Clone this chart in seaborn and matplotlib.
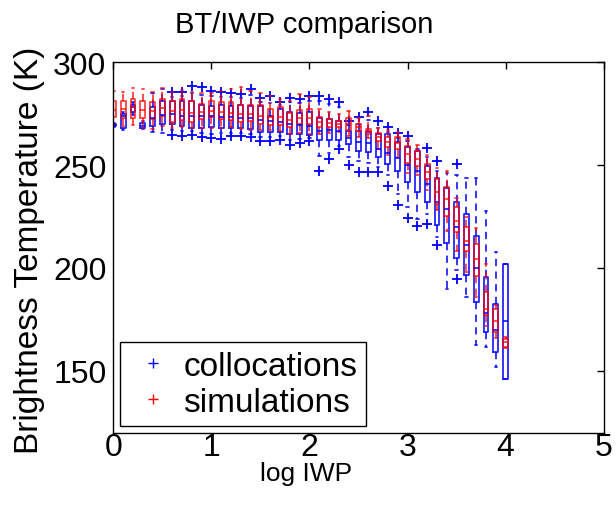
import numpy as np
import pandas as pd
import matplotlib
matplotlib.use('Agg')
import matplotlib.pyplot as plt
from matplotlib.lines import Line2D
import seaborn as sns

BLUE = '#0000ff'
RED = '#ff0000'

log_iwp = [0.0, 0.1, 0.2, 0.3, 0.4, 0.5, 0.6, 0.7, 0.8, 0.9,
           1.0, 1.1, 1.2, 1.3, 1.4, 1.5, 1.6, 1.7, 1.8, 1.9,
           2.0, 2.1, 2.2, 2.3, 2.4, 2.5, 2.6, 2.7, 2.8, 2.9,
           3.0, 3.1, 3.2, 3.3, 3.4, 3.5, 3.6, 3.7, 3.8, 3.9, 4.0]

# collocations (blue): whisker low, q1, median, q3, whisker high, outliers
coll_lo = [268.5, 267.0, 274.5, 267.5, 266.0, 265.5, 267.0, 266.5, 266.5, 265.5,
           265.0, 265.5, 265.5, 265.5, 265.0, 263.5, 263.5, 264.0, 262.0, 262.5,
           263.0, 254.6, 256.0, 259.5, 254.0, 252.0, 251.0, 249.0, 245.0, 236.0,
           229.5, 223.8, 226.0, 215.0, 189.6, 199.0, 186.0, 162.3, 161.4, 151.7, 146.0]
coll_q1 = [269.0, 268.0, 276.0, 268.0, 269.0, 270.0, 270.0, 269.0, 268.0, 268.0,
           268.5, 268.0, 268.0, 268.0, 267.5, 266.0, 266.0, 266.0, 265.0, 265.0,
           264.5, 262.0, 262.0, 262.0, 260.3, 257.0, 256.2, 253.8, 250.6, 247.3,
           241.9, 237.1, 232.2, 221.0, 212.0, 205.0, 196.5, 183.5, 168.8, 159.0, 146.0]
coll_med = [269.5, 274.0, 278.0, 269.0, 273.0, 274.5, 275.0, 274.0, 274.0, 274.0,
            274.0, 273.5, 273.5, 273.0, 273.0, 272.0, 271.5, 271.0, 270.0, 269.5,
            269.0, 266.8, 267.0, 266.5, 263.0, 261.0, 260.5, 258.0, 256.0, 253.3,
            250.0, 247.0, 241.0, 232.0, 228.7, 220.0, 211.0, 200.0, 178.2, 170.0, 174.4]
coll_q3 = [270.0, 275.0, 279.0, 270.5, 278.0, 281.0, 281.0, 281.0, 281.0, 279.0,
           278.5, 279.0, 278.5, 279.0, 278.5, 278.5, 274.0, 277.5, 276.0, 275.5,
           276.0, 272.7, 272.4, 271.6, 266.8, 266.8, 265.9, 265.1, 265.1, 261.1,
           258.6, 257.0, 249.7, 243.5, 239.0, 232.0, 226.0, 215.5, 195.7, 182.6, 202.0]
coll_hi = [270.5, 276.0, 280.5, 271.5, 285.0, 287.0, 283.0, 283.5, 285.0, 284.0,
           283.5, 283.0, 283.0, 282.5, 284.0, 280.5, 280.0, 279.0, 280.5, 280.0,
           281.0, 281.0, 279.5, 278.0, 269.5, 270.0, 272.0, 268.0, 266.0, 263.0,
           261.5, 258.0, 254.0, 247.0, 246.3, 245.0, 243.5, 243.8, 227.5, 207.6, 202.0]
coll_fliers = [[], [], [], [], [], [], [285.5, 264.8], [285.5, 264.0], [288.6, 264.5], [288.0, 263.5],
               [286.0, 263.0], [285.7, 262.7], [285.0, 264.0], [284.6, 264.3], [287.0, 263.5],
               [282.5, 261.5], [283.5, 261.5], [280.5, 262.0], [282.5, 259.8], [282.2, 260.8],
               [283.8, 261.9], [283.8, 247.3], [281.9, 253.2], [280.6, 257.8], [271.6, 250.0],
               [273.2, 246.5], [275.7, 246.8], [271.6, 246.5], [268.5, 240.0], [265.6, 230.8],
               [264.0, 224.2], [220.6], [258.2, 221.6], [252.0, 211.2], [],
               [250.5, 194.8], [], [], [], [], []]

# simulations (red)
sim_lo = [270.0, 269.0, 269.5, 268.0, 267.6, 268.9, 268.0, 268.5, 268.0, 268.0,
          268.0, 268.0, 268.5, 267.5, 267.0, 267.0, 267.0, 266.5, 265.0, 265.5,
          265.0, 265.0, 265.5, 266.0, 264.0, 263.5, 263.0, 258.0, 255.0, 254.0,
          246.0, 245.0, 238.0, 228.0, 218.0, 208.0, 198.0, 185.7, 172.0, 166.0, 161.0]
sim_q1 = [273.2, 273.0, 272.8, 273.0, 272.4, 273.7, 271.0, 272.0, 271.0, 272.4,
          273.2, 272.4, 272.0, 271.0, 271.5, 270.0, 269.5, 269.5, 268.5, 270.0,
          270.0, 268.4, 268.4, 268.4, 267.0, 266.8, 265.2, 261.6, 258.7, 257.8,
          251.0, 249.4, 243.2, 231.1, 225.4, 217.4, 208.4, 196.3, 176.9, 168.7, 161.4]
sim_med = [277.0, 277.5, 278.1, 277.0, 276.5, 277.6, 276.5, 277.0, 275.5, 276.0,
           276.5, 276.0, 275.5, 275.0, 275.0, 274.0, 273.5, 273.5, 272.0, 272.7,
           273.0, 271.0, 270.5, 270.0, 270.0, 268.5, 266.5, 263.5, 261.0, 260.5,
           255.4, 253.0, 246.5, 237.0, 233.5, 223.0, 213.3, 204.4, 180.0, 174.4, 163.9]
sim_q3 = [281.3, 281.0, 282.2, 281.0, 280.5, 281.9, 281.3, 282.0, 281.0, 279.7,
          281.3, 280.7, 280.5, 279.0, 279.0, 279.0, 277.5, 278.0, 275.5, 276.8,
          277.5, 273.2, 272.4, 271.6, 272.8, 270.0, 267.6, 265.6, 263.5, 263.5,
          259.1, 257.0, 250.5, 243.2, 239.2, 229.5, 220.1, 211.7, 188.3, 180.0, 165.5]
sim_hi = [286.2, 285.7, 287.3, 287.0, 285.7, 287.3, 285.4, 286.5, 285.5, 285.0,
          285.1, 286.0, 287.0, 288.0, 286.0, 285.0, 283.8, 282.0, 281.0, 284.7,
          283.0, 277.3, 276.0, 275.0, 276.5, 273.0, 274.0, 268.0, 267.0, 266.0,
          262.5, 260.0, 255.0, 248.5, 247.0, 234.0, 225.0, 219.3, 202.0, 182.0, 166.3]


def box_stats(lo, q1, med, q3, hi):
    return [dict(whislo=a, q1=b, med=c, q3=d, whishi=e, fliers=[])
            for a, b, c, d, e in zip(lo, q1, med, q3, hi)]


def draw_boxes(ax, stats, color, alpha):
    line = dict(color=color, linewidth=1.3, alpha=alpha)
    ax.bxp(stats, positions=log_iwp, widths=0.05, showfliers=False,
           boxprops=line, medianprops=line, capprops=line,
           whiskerprops=dict(line, linestyle=(0, (4, 3))),
           manage_ticks=False)


sns.set_theme(style='white')
plt.rcParams['font.family'] = ['Liberation Sans', 'DejaVu Sans']
plt.rcParams['xtick.direction'] = 'in'
plt.rcParams['ytick.direction'] = 'in'
plt.rcParams['text.color'] = 'black'
plt.rcParams['xtick.color'] = 'black'
plt.rcParams['ytick.color'] = 'black'
plt.rcParams['axes.labelcolor'] = 'black'

fig = plt.figure(figsize=(6.16, 5.10), dpi=100)
ax = fig.add_axes([0.184, 0.150, 0.796, 0.726])

draw_boxes(ax, box_stats(coll_lo, coll_q1, coll_med, coll_q3, coll_hi), BLUE, 0.85)

flier_df = pd.DataFrame([(x, v) for x, fl in zip(log_iwp, coll_fliers) for v in fl],
                        columns=['log_iwp', 'bt'])
sns.scatterplot(data=flier_df, x='log_iwp', y='bt', marker='+', color=BLUE,
                s=60, linewidth=1.3, ax=ax, legend=False)

draw_boxes(ax, box_stats(sim_lo, sim_q1, sim_med, sim_q3, sim_hi), RED, 0.75)

ax.set_xlim(0, 5)
ax.set_ylim(120, 300)
ax.set_xticks([0, 1, 2, 3, 4, 5])
ax.set_xticklabels(['0', '1', '2', '3', '4', '5'])
ax.set_yticks([150, 200, 250, 300])
ax.set_xlabel('')
ax.set_ylabel('')
ax.tick_params(axis='both', labelsize=23, length=5, width=1, color='black',
               labelcolor='black', top=True, right=True)
ax.tick_params(axis='x', pad=0)
ax.tick_params(axis='y', pad=5)
for s in ax.spines.values():
    s.set_color('black')
    s.set_linewidth(1.0)

handles = [Line2D([], [], marker='+', color=BLUE, linestyle='none', markersize=7),
           Line2D([], [], marker='+', color=RED, linestyle='none', markersize=7)]
leg = ax.legend(handles, ['collocations', 'simulations'], loc='lower left',
                bbox_to_anchor=(0.0137, 0.018), borderaxespad=0, fontsize=24,
                fancybox=False, edgecolor='black', framealpha=1,
                borderpad=0.25, handlelength=1.5, handletextpad=0.15, labelspacing=0.15)
leg.get_frame().set_linewidth(1.0)

fig.text(304 / 616, 1 - 33 / 510, 'BT/IWP comparison', ha='center', va='baseline', fontsize=21)
fig.text(306 / 616, 1 - 481 / 510, 'log IWP', ha='center', va='baseline', fontsize=19)
fig.text(30 / 616, 1 - 250 / 510, 'Brightness Temperature (K)', ha='center', va='center',
         rotation=90, fontsize=24)

fig.savefig('out.png', dpi=100)
